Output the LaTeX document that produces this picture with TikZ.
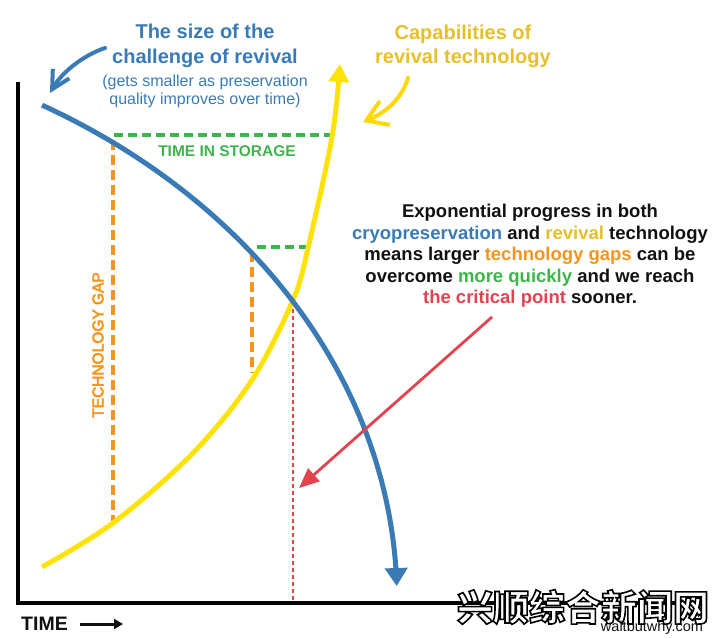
\documentclass[tikz,border=0pt]{standalone}
\usepackage{fontspec}
\setmainfont{Liberation Sans}
\newfontfamily\cjkfont{Noto Sans CJK SC}
\usetikzlibrary{arrows.meta}
\definecolor{wbblue}{HTML}{3A7BB5}
\definecolor{wbyellow}{HTML}{FFE20A}
\definecolor{wbgold}{HTML}{E6C02A}
\definecolor{wbgreen}{HTML}{3DB54A}
\definecolor{wborange}{HTML}{F7941D}
\definecolor{wbred}{HTML}{E2434F}
\definecolor{wbtext}{HTML}{111111}
\begin{document}
\begin{tikzpicture}[x=1pt,y=-1pt,
  axisline/.style={line width=4pt, line join=miter, black},
  blueline/.style={line width=5pt, wbblue},
  yellowline/.style={line width=5pt, wbyellow},
  greendash/.style={line width=3.5pt, wbgreen, dash pattern=on 9pt off 5pt},
  orangedash/.style={line width=3.5pt, wborange, dash pattern=on 10pt off 5pt},
  reddash/.style={line width=1.8pt, wbred, dash pattern=on 4pt off 3pt},
  redarrow/.style={line width=2.8pt, wbred, -{Triangle[length=20pt,width=17pt]}},
  lbl/.style={inner sep=0pt, align=center}]
\useasboundingbox (0,0) rectangle (720,639);

% axes
\coordinate (ytop) at (18,82);
\coordinate (origin) at (18,603);
\coordinate (xend) at (706,603);
\draw[axisline] (ytop) -- (origin) -- (xend);

% technology gap lines
\coordinate (g1top) at (113,140);
\coordinate (g1bot) at (113,523);
\coordinate (g2top) at (252,252);
\coordinate (g2bot) at (252,373);
\draw[orangedash] (g1top) -- (g1bot);
\draw[orangedash] (g2top) -- (g2bot);

% time in storage lines
\coordinate (s1a) at (114,135);
\coordinate (s1b) at (333,135);
\coordinate (s2a) at (257,247);
\coordinate (s2b) at (308,247);
\draw[greendash] (s1a) -- (s1b);
\draw[greendash] (s2a) -- (s2b);

% critical point
\coordinate (crit) at (293,302);
\coordinate (critbot) at (293,601);
\draw[reddash] (crit) -- (critbot);

% yellow curve (capabilities)
\draw[yellowline, -{Triangle[length=18pt,width=20pt]}] plot[smooth, tension=0.55] coordinates
  {(42,567) (113,523) (193,453) (252,380) (293,300) (308,248) (332,137) (340,64)};

% blue curve (challenge): elliptic arc
\draw[blueline, -{Triangle[length=18pt,width=22pt]}] plot[domain=29.39:88.59, samples=90]
  ({-300+697*sin(\x)}, {600-568*cos(\x)});

% labels on chart
\node[lbl, text=wbgreen, font=\bfseries\fontsize{15.5}{18}\selectfont] (storage) at (227,151) {TIME IN STORAGE};
\node[lbl, text=wborange, font=\fontsize{15.5}{18}\selectfont, rotate=90] (techgap) at (98,345)
  {\special{pdf:literal direct 2 Tr 0.6 w}TECHNOLOGY GAP\special{pdf:literal direct 0 Tr}};

% blue title
\node[lbl, text=wbblue, font=\bfseries\fontsize{20}{25}\selectfont] (bluetitle) at (205,46) {The size of the\\challenge of revival};
\node[lbl, text=wbblue, font=\fontsize{16}{18}\selectfont] (bluesub) at (205,91) {(gets smaller as preservation\\quality improves over time)};
\coordinate (bluecallstart) at (105,48);
\coordinate (bluecalltip) at (50,93);
\draw[line width=4pt, wbblue, line cap=round, -{Straight Barb[length=18pt,width=19pt]}]
  (bluecallstart) .. controls (84,55) and (62,72) .. (bluecalltip);

% yellow title
\node[lbl, text=wbgold, font=\bfseries\fontsize{20}{24}\selectfont] (yellowtitle) at (463,46) {Capabilities of\\revival technology};
\coordinate (yellowcallstart) at (408,78);
\coordinate (yellowcalltip) at (363,122);
\draw[line width=4pt, wbyellow!90!orange, line cap=round, -{Straight Barb[length=20pt,width=26pt]}]
  (yellowcallstart) .. controls (402,98) and (387,112) .. (yellowcalltip);

% explanation
\node[lbl, text=wbtext, font=\bfseries\fontsize{18.5}{21.5}\selectfont] (explain) at (530,256)
  {Exponential progress in both\\
   {\color{wbblue}cryopreservation} and {\color{wbgold}revival} technology\\
   means larger {\color{wborange}technology gaps} can be\\
   overcome {\color{wbgreen}more quickly} and we reach\\
   {\color{wbred}the critical point} sooner.};
\coordinate (redstart) at (492,317);
\coordinate (redtip) at (299,488);
\draw[redarrow] (redstart) -- (redtip);

% time label
\node[lbl, anchor=west, font=\bfseries\fontsize{19.5}{24}\selectfont, text=wbtext] (timelbl) at (21,624) {TIME};
\coordinate (timearrowstart) at (80,624);
\coordinate (timearrowend) at (123,624);
\draw[line width=3pt, wbtext, -{Triangle[length=9pt,width=10pt]}] (timearrowstart) -- (timearrowend);

% watermark (white letters, black outline)
\node[lbl, text=white, font=\cjkfont\bfseries\fontsize{36}{40}\selectfont] (watermark) at (583,607)
  {\special{pdf:literal direct 2 Tr 1.6 w 0 0 0 RG}兴顺综合新闻网\special{pdf:literal direct 0 Tr}};
\node[lbl, text=wbtext, font=\fontsize{14.5}{16}\selectfont] (site) at (652,628) {waitbutwhy.com};
\end{tikzpicture}
\end{document}
